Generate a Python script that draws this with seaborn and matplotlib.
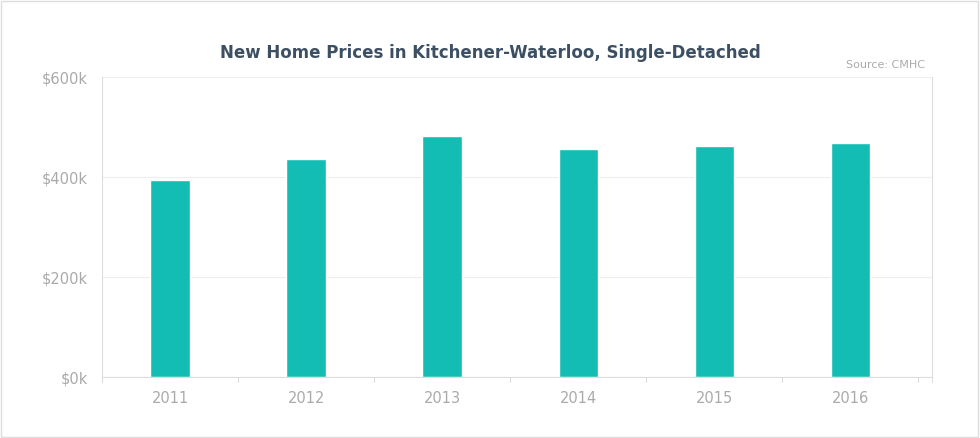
import matplotlib
matplotlib.use("Agg")
import matplotlib.pyplot as plt
import seaborn as sns
import pandas as pd
from matplotlib.patches import Rectangle

years = ["2011", "2012", "2013", "2014", "2015", "2016"]
prices = [395000, 436000, 483000, 457000, 463000, 469000]
y_ticks = [0, 200000, 400000, 600000]
y_labels = ["$0k", "$200k", "$400k", "$600k"]

df = pd.DataFrame({"year": years, "price": prices})

sns.set_style("white")
fig = plt.figure(figsize=(9.8, 4.38), dpi=100)
ax = fig.add_axes([102 / 980, 1 - 377 / 438, 830 / 980, 300 / 438])

sns.barplot(data=df, x="year", y="price", color="#14bdb3", saturation=1,
            width=0.29, ax=ax)

ax.set_ylim(0, 600000)
ax.set_xlim(-0.5, 5.6)
ax.set_yticks(y_ticks)
ax.set_yticklabels(y_labels)
ax.set_xlabel("")
ax.set_ylabel("")
ax.grid(axis="y", color="#eeeeee", linewidth=0.8)
ax.set_axisbelow(True)
for side in ["left", "right", "bottom"]:
    ax.spines[side].set_color("#dddddd")
    ax.spines[side].set_linewidth(0.8)
ax.spines["top"].set_visible(False)
ax.tick_params(axis="both", colors="#aaaaaa", labelsize=10.5, length=0, pad=10)

# category boundary ticks along the bottom
for b in [x - 0.5 for x in range(7)] + [5.6]:
    ax.plot([b, b], [0, -9000], color="#dddddd", lw=0.8, clip_on=False)

fig.text(0.5, 1 - 53 / 438, "New Home Prices in Kitchener-Waterloo, Single-Detached",
         ha="center", va="center", fontsize=12, fontweight="bold", color="#3d4f63")
fig.text(925 / 980, 1 - 65 / 438, "Source: CMHC", ha="right", va="center",
         fontsize=8, color="#aaaaaa")

fig.patches.append(Rectangle((0.001, 0.002), 0.997, 0.995, transform=fig.transFigure,
                             fill=False, edgecolor="#dddddd", linewidth=1))

fig.savefig("out.png", dpi=100)
